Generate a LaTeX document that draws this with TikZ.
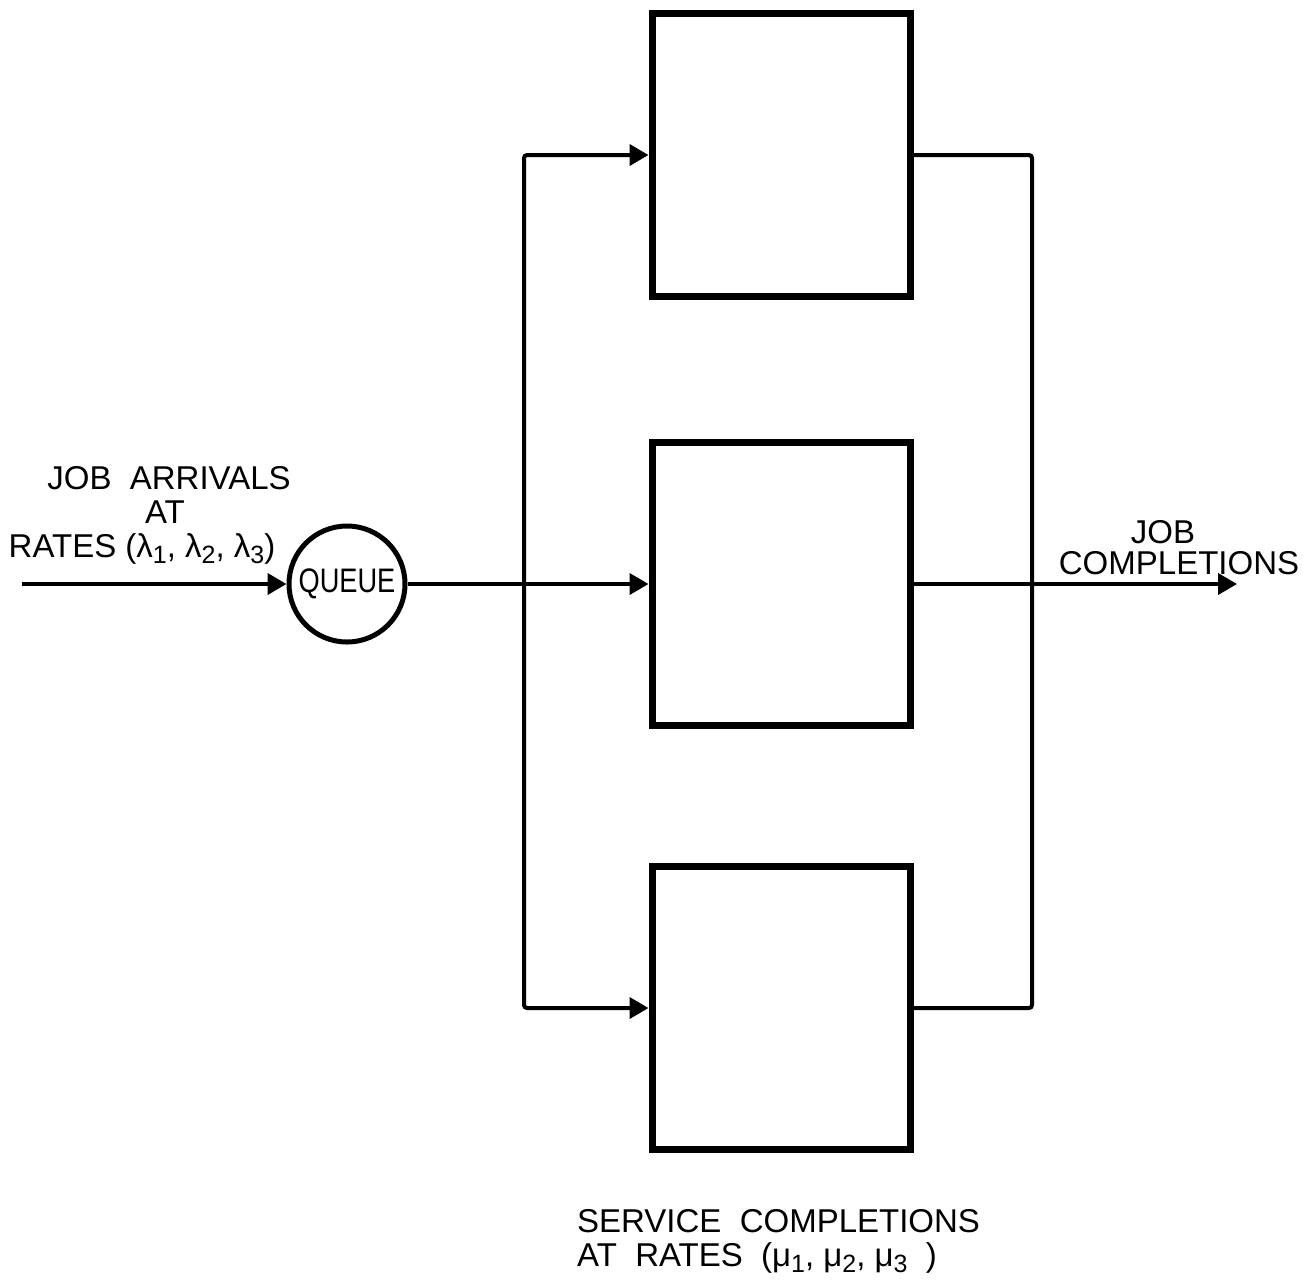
\documentclass[tikz,border=0pt]{standalone}
\usepackage{fontspec}
\usepackage{graphicx}
\setmainfont{Liberation Sans}
\usetikzlibrary{arrows.meta}
\newcommand\lsub[1]{\raisebox{-0.35ex}{\fontsize{25}{25}\selectfont #1}}
\tikzset{
  conn/.style={line width=4pt, rounded corners=3pt},
  arr/.style={conn, -{Triangle[length=19pt,width=21pt]}},
  server/.style={draw, line width=7pt, minimum width=258pt, minimum height=283pt, inner sep=0pt},
  lbl/.style={font=\fontsize{33}{38}\selectfont, inner sep=0pt},
}
\begin{document}
\begin{tikzpicture}[x=1pt,y=-1pt]
\useasboundingbox (0,0) rectangle (1316,1283);
% servers
\node[server] (s1) at (781,155) {};
\node[server] (s2) at (781,584) {};
\node[server] (s3) at (781,1008) {};
% queue
\node[circle, draw, line width=5pt, minimum size=116pt, inner sep=0pt,
      font=\fontsize{34}{34}\selectfont] (q) at (347,584) {\scalebox{0.8}[1]{QUEUE}};
% coordinates
\coordinate (src) at (22,584);
\coordinate (jl) at (524,584);
\coordinate (jr) at (1032,584);
\coordinate (out) at (1237,584);
% connectors
\draw[arr] (src) -- (q.west);
\draw[arr] (q.east) -- (s2.west);
\draw[arr] (jl) |- (s1.west);
\draw[arr] (jl) |- (s3.west);
\draw[conn] (s1.east) -| (jr);
\draw[conn] (s3.east) -| (jr);
\draw[arr] (s2.east) -- (out);
% labels
\node[lbl] (l1) at (169,478) {JOB\ \ ARRIVALS};
\node[lbl] (l2) at (165,512) {AT};
\node[lbl] (l3) at (142,549) {RATES (λ\lsub{1}, λ\lsub{2}, λ\lsub{3})};
\node[lbl] (r1) at (1163,532) {JOB};
\node[lbl] (r2) at (1179,563) {COMPLETIONS};
\node[lbl, anchor=west] (b1) at (577,1221) {SERVICE\ \ COMPLETIONS};
\node[lbl, anchor=west] (b2) at (577,1258) {AT\ \ RATES\ \ (μ\lsub{1}, μ\lsub{2}, μ\lsub{3}\ \ )};
\end{tikzpicture}
\end{document}
